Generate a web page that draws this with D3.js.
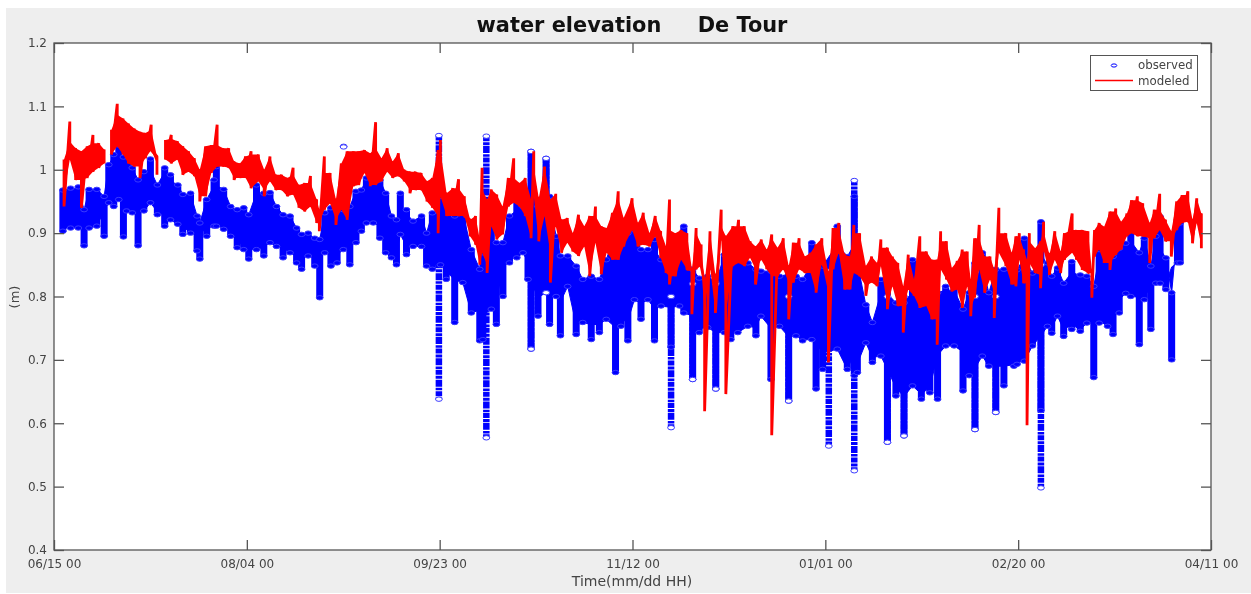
<!DOCTYPE html>
<html><head><meta charset="utf-8">
<script src="https://cdn.jsdelivr.net/npm/d3@7"></script>
<style>html,body{margin:0;padding:0;background:#fff}svg{display:block;filter:blur(0.4px)}</style>
</head><body><svg id="c" width="1251" height="594"></svg>
<script>
const titleText = "water elevation     De Tour";
const xLabelText = "Time(mm/dd HH)";
const yLabelText = "(m)";
const seriesNames = ["observed", "modeled"];
const xTickDays = [0, 50, 100, 150, 200, 250, 300];
const xTickLabels = ["06/15 00", "08/04 00", "09/23 00", "11/12 00", "01/01 00", "02/20 00", "04/11 00"];
const yTickValues = [0.4, 0.5, 0.6, 0.7, 0.8, 0.9, 1, 1.1, 1.2];

// observed: days since 06/15 with the upper and lower reading of each stretch
const observedDays = [2.3,4.3,6.3,7.8,9.1,11.1,13,14.2,15.5,16.8,18,18.8,20.3,21.8,23.3,25,26.8,28.7,30.2,32.1,33.4,35.4,37.1,37.8,39.6,41.5,42.1,44,45.8,47.5,49.2,50.5,
52.5,54.4,56,57.7,59.4,61.2,62.9,64.2,65.9,67.6,68.9,70.2,71.8,73.4,75,76.7,78.3,79.7,81,82.8,84.5,86,87.5,88.8,89.8,91.4,93.1,95.3,96.6,98.1,100.2,101.7,
103.9,106,108.2,110.4,111.2,113.4,114.7,116.4,118.1,120,121.6,122.9,123.7,125.5,127.6,128.5,130.2,131.3,133.2,135.4,137.1,139.3,141.4,143.2,145.6,147,148.8,
150.5,152.2,154,155.7,157.4,160,162.2,163.3,165.6,167.3,169.5,171.6,173.8,175.5,177.3,179.9,182,183.3,185.9,188.1,190.5,192.4,194.1,196.5,197.6,199.3,
203.1,205.7,207.5,208.3,210.5,212.2,214.4,216.1,218.3,220.4,222.6,224.9,227.1,229.1,231.2,233.4,235.7,237.3,238.8,240.7,242.4,244.2,246.3,248.9,
249.7,251.6,253.7,255.9,257.6,258.7,260.2,261.8,263.9,266.1,267.8,269.6,271,273.2,274.6,276.2,277.9,279.2,281.4,282.7,284.4,285.7,286.8,288.3,289.8,291.3,292];
const observedHigh = [.968,.971,.973,.937,.969,.969,.958,1.008,1.024,1.039,1.02,1.031,1.003,.984,.997,1.017,.976,1.003,.992,.976,.961,.963,.927,.916,.953,.984,1.005,.969,.942,.937,.94,.929,
.976,.963,.964,.942,.929,.927,.908,.898,.9,.892,.89,.932,.94,.942,.937,.942,.966,.968,.987,.987,.984,.963,.927,.921,.963,.937,.919,.927,.9,.932,.958,.953,
.927,.942,.874,.843,.869,.921,.885,.885,.927,.953,.942,.932,1.029,.942,1.018,.958,.895,.864,.864,.848,.827,.832,.827,.858,.906,.921,.9,
.905,.874,.874,.89,.858,.869,.863,.911,.843,.829,.832,.822,.866,.866,.863,.853,.843,.84,.84,.832,.843,.832,.827,.885,.858,.848,
.911,.863,.958,.853,.787,.759,.827,.832,.79,.79,.858,.827,.795,.806,.816,.822,.78,.806,.853,.869,.806,.843,.843,.837,
.842,.892,.837,.918,.853,.832,.845,.821,.855,.834,.832,.816,.874,.863,.863,.876,.884,.905,.869,.892,.848,.895,.926,.861,.806,.921,.916];
const observedLow = [.903,.908,.908,.88,.908,.911,.895,.948,.942,.953,.894,.935,.932,.88,.935,.948,.929,.911,.921,.914,.898,.9,.872,.859,.895,.911,.911,.906,.895,.877,.874,.859,
.874,.864,.885,.879,.861,.869,.853,.843,.864,.848,.798,.869,.848,.853,.874,.85,.885,.903,.916,.916,.892,.869,.861,.85,.898,.866,.879,.879,.848,.843,.85,.827,
.759,.822,.774,.73,.732,.78,.756,.8,.853,.861,.869,.827,.717,.769,.806,.756,.8,.738,.816,.74,.759,.732,.743,.764,.68,.753,.73,
.795,.764,.795,.73,.785,.72,.785,.774,.669,.743,.751,.654,.743,.732,.743,.753,.738,.769,.669,.753,.635,.738,.73,.732,.654,.685,
.717,.685,.675,.68,.727,.696,.706,.57,.643,.58,.659,.638,.648,.638,.722,.722,.651,.675,.59,.706,.69,.617,.659,.69,
.693,.698,.722,.62,.753,.742,.769,.737,.748,.745,.758,.672,.758,.753,.74,.774,.805,.8,.724,.795,.748,.821,.821,.811,.7,.853,.853];

// narrow excursions of the observed record
const spikeDays = [75.1,99.8,112.1,123.7,127.6,160,165.6,171.6,190.5,200.9,207.5,216.1,220.4,238.8,244.2,255.9];
const spikeTop = [1.037,1.054,1.053,1.029,1.018,.8,.82,.82,.8,.84,.983,.8,.8,.8,.8,.85];
const spikeBottom = [1.036,.638,.577,.717,.806,.593,.669,.654,.635,.564,.525,.57,.58,.59,.617,.498];

// modeled: days since 06/15 with upper and lower reading; null marks a gap in the line
const modeledDays = [2.6,4.1,5.6,7.1,8.6,10.1,11.6,13,14,14.9,16.4,17.9,19.3,20.8,22.3,23.7,25.2,26.7,27.8,28.9,30.4,32,33.4,34.9,36.4,37.8,39.3,40.8,42.3,43.8,45.3,46.7,48.2,49.7,51.1,
53,54.5,56,57.5,59,60.5,62,63.5,65,66.5,68.1,68.8,70.1,71.6,73.1,74.5,76,77.6,79,80.5,82,83.4,84.9,86.4,87.8,89.3,90.8,92.3,93.7,95.2,96.7,98.1,99.6,100.2,101.8,
103.4,104.9,106.4,107.9,109.3,110.4,111,112.3,113.4,114.8,116.3,117.8,119.2,120.7,122.2,123.7,124.4,125.7,127.2,128.7,130.1,131.6,133.1,134.5,136,137.5,138.9,140.4,141.9,143.3,144.8,146.3,147.7,
149.9,151.4,152.8,154.4,155.9,157.3,158.7,159.6,161.1,162.6,164.1,165.4,166.5,167.8,168.7,170.1,171.5,173,174.2,176,177.5,179,180.5,181.9,183.4,184.8,186.1,187.6,189.1,190.5,191.7,193.2,194.7,196.2,197.6,199.1,
200.8,202,203.5,205,206.4,207.4,208.9,210.5,212,213.4,214.4,216.1,217.4,218.8,220.2,221.5,223,224.5,226.2,227.6,229,229.9,231.4,232.8,234.2,235.5,236.8,237.7,238.7,239.9,241.3,242.7,243.8,245,246.8,248.3,
249.4,250.3,251.4,252.3,252.9,254.4,255.8,256.6,258.1,259.5,261,262,264,265.1,266.6,268.1,269.1,269.8,271,272.3,273.8,275.3,276.7,278.2,279.4,280.9,282.3,284.1,285.3,286.7,288.2,289.7,291.1,292.5,294,295.2,296.3,297.5];
const modeledHigh = [1.016,1.076,1.034,1.029,1.037,1.055,1.042,1.032,null,1.063,1.104,1.081,1.073,1.065,1.06,1.058,1.071,1.021,null,1.047,1.055,1.045,1.037,1.029,1.018,1.0,1.037,1.039,1.071,1.034,1.034,1.013,1.01,1.021,1.029,
1.024,1.0,1.021,.992,.992,.987,1.003,.976,.979,.99,.953,.937,1.021,.995,.953,1.01,1.029,1.029,1.029,1.031,1.026,1.075,1.018,1.034,1.013,1.026,1.0,.997,.997,.995,.982,.987,1.031,1.047,.963,
.971,.985,.958,.921,.927,.89,1.003,.953,.969,.961,.942,.987,1.018,.979,.987,.953,1.029,.955,1.005,.953,.962,.921,.924,.9,.929,.911,.927,.942,.911,.908,.932,.966,.924,
.955,.916,.932,.9,.927,.903,.879,.953,.9,.905,.9,.843,.908,.882,.822,.903,.832,.937,.895,.911,.921,.911,.887,.879,.89,.874,.898,.877,.892,.848,.885,.892,.863,.869,.882,.892,
.837,.908,.916,.866,.863,.913,.9,.848,.863,.853,.89,.877,.863,.853,.816,.866,.827,.895,.871,.858,.858,.903,.887,.845,.856,.874,.871,.827,.892,.913,.863,.863,.843,.94,.9,.869,
.895,.9,.874,.858,.9,.876,.887,.918,.866,.903,.871,.9,.931,.905,.905,.903,.842,.905,.916,.91,.934,.939,.918,.931,.952,.958,.947,.916,.937,.962,.921,.903,.95,.96,.966,.921,.955,.931];
const modeledLow = [.942,1.016,.984,.94,.987,.997,1.003,1.01,null,1.024,1.037,1.024,1.01,1.005,.987,1.018,1.031,.992,null,1.016,1.01,1.016,.992,.997,.99,.95,.958,.995,1.005,1.005,1.003,.984,.987,.987,.971,
.982,.958,.982,.968,.968,.958,.961,.94,.934,.942,.916,.903,.937,.947,.913,.937,.921,.974,.976,.995,.974,.976,.982,.997,.987,.99,.982,.963,.968,.968,.95,.94,.9,.958,.927,
.927,.927,.927,.895,.882,.85,.869,.837,.911,.89,.898,.942,.948,.942,.927,.892,.958,.887,.927,.822,.911,.869,.885,.871,.864,.879,.832,.885,.835,.869,.858,.858,.879,
.905,.879,.882,.879,.895,.861,.837,.819,.832,.858,.843,.772,.843,.848,.619,.848,.774,.89,.646,.848,.853,.848,.861,.819,.858,.843,.581,.832,.843,.764,.822,.843,.837,.837,.806,.853,
.696,.843,.869,.811,.811,.837,.832,.801,.822,.816,.848,.78,.816,.785,.743,.811,.801,.782,.785,.764,.724,.843,.827,.808,.811,.782,.816,.769,.798,.843,.806,.827,.766,.869,.848,.819,
.816,.858,.821,.597,.853,.837,.813,.874,.834,.858,.837,.858,.869,.858,.842,.837,.798,.863,.874,.853,.842,.866,.874,.895,.9,.895,.895,.853,.892,.905,.887,.863,.905,.916,.918,.884,.916,.876];

const W = 1251, H = 594, m = {l:54, t:43, r:1211, b:550};
const svg = d3.select("#c");
const fontFam = "'DejaVu Sans', sans-serif";
const inkGrey = "#444";

svg.append("rect").attr("x",6).attr("y",8).attr("width",W-6).attr("height",H-9).attr("fill","#eeeeee");
svg.append("rect").attr("x",m.l).attr("y",m.t).attr("width",m.r-m.l).attr("height",m.b-m.t).attr("fill","#fff");

const x = d3.scaleLinear().domain([0,300]).range([m.l,m.r]);
const y = d3.scaleLinear().domain([0.4,1.2]).range([m.b,m.t]);
svg.append("clipPath").attr("id","plot").append("rect").attr("x",m.l).attr("y",m.t).attr("width",m.r-m.l).attr("height",m.b-m.t);
const plot = svg.append("g").attr("clip-path","url(#plot)");

// solid core of a band: narrow excursions are left to the individual marks
function neighbours(arr,i,r){ const out=[]; for(let k=Math.max(0,i-r);k<=Math.min(arr.length-1,i+r);k++){ if(arr[k]!==null) out.push(arr[k]); } return out.sort(d3.ascending); }
function coreRows(days,hi,lo,r,qLo,qHi){
  return days.map((d,i)=> hi[i]===null ? {d,hi:null,lo:null} :
    {d, hi:Math.min(hi[i], d3.quantile(neighbours(hi,i,r),qHi)), lo:Math.max(lo[i], d3.quantile(neighbours(lo,i,r),qLo))});
}
const bandArea = d3.area().defined(p=>p.hi!==null).x(p=>x(p.d)).y0(p=>y(p.lo)).y1(p=>y(p.hi));

// observed marks
const blue = "#0000ff";
plot.append("path").attr("d",bandArea(coreRows(observedDays,observedHigh,observedLow,2,0.7,0.6)))
  .attr("fill",blue).attr("stroke",blue).attr("stroke-width",1);
plot.append("g").selectAll("line").data(observedDays).join("line")
  .attr("x1",d=>x(d)).attr("x2",d=>x(d))
  .attr("y1",(d,i)=>y(observedHigh[i])).attr("y2",(d,i)=>y(observedLow[i]))
  .attr("stroke",blue).attr("stroke-width",7);
plot.append("g").selectAll("line").data(spikeDays).join("line")
  .attr("x1",d=>x(d)).attr("x2",d=>x(d))
  .attr("y1",(d,i)=>y(spikeTop[i])).attr("y2",(d,i)=>y(spikeBottom[i]))
  .attr("stroke",blue).attr("stroke-width",6.5).attr("stroke-dasharray","5 1 3 0.8 7 1.2 2.5 0.8");
const obsPts = observedDays.flatMap((d,i)=>[[d,observedHigh[i]],[d,observedLow[i]]]);
plot.append("g").selectAll("ellipse").data(obsPts).join("ellipse")
  .attr("cx",p=>x(p[0])).attr("cy",p=>y(p[1])).attr("rx",3.4).attr("ry",2.2)
  .attr("fill",blue).attr("stroke","#3a3aff").attr("stroke-width",1);
plot.append("g").selectAll("ellipse").data(spikeDays.flatMap((d,i)=>[[d,spikeTop[i]],[d,spikeBottom[i]]])).join("ellipse")
  .attr("cx",p=>x(p[0])).attr("cy",p=>y(p[1])).attr("rx",3.4).attr("ry",2.2)
  .attr("fill","#fff").attr("stroke","#3a3aff").attr("stroke-width",1);

// modeled line
const red = "#ff0000";
plot.append("path").attr("d",bandArea(coreRows(modeledDays,modeledHigh,modeledLow,2,0.25,0.75)))
  .attr("fill",red).attr("stroke","none");
const modPts = modeledDays.flatMap((d,i)=>[[d,modeledHigh[i]],[d,modeledLow[i]]]);
plot.append("path").attr("d",d3.line().defined(p=>p[1]!==null).x(p=>x(p[0])).y(p=>y(p[1]))(modPts))
  .attr("fill","none").attr("stroke",red).attr("stroke-width",2.8).attr("stroke-linejoin","bevel");

// axes
function styleAxis(g){
  g.select(".domain").remove();
  g.selectAll("line").attr("stroke","#555").attr("stroke-width",1.3);
  g.selectAll("text").attr("fill",inkGrey).attr("font-family",fontFam).attr("font-size",12);
}
const yfmt = v => String(+v.toFixed(1));
svg.append("g").attr("transform",`translate(${m.l},0)`).call(d3.axisLeft(y).tickValues(yTickValues).tickFormat(yfmt).tickSize(-10).tickPadding(7)).call(styleAxis)
  .selectAll("text").attr("dy","0.32em");
svg.append("g").attr("transform",`translate(${m.r},0)`).call(d3.axisRight(y).tickValues(yTickValues).tickFormat("").tickSize(-10)).call(styleAxis);
svg.append("g").attr("transform",`translate(0,${m.b})`).call(d3.axisBottom(x).tickValues(xTickDays).tickFormat((d,i)=>xTickLabels[i]).tickSize(-10).tickPadding(6)).call(styleAxis)
  .selectAll("text").attr("y",9.5).attr("dy","0.71em");
svg.append("g").attr("transform",`translate(0,${m.t})`).call(d3.axisTop(x).tickValues(xTickDays).tickFormat("").tickSize(-10)).call(styleAxis);
svg.append("rect").attr("x",m.l).attr("y",m.t).attr("width",m.r-m.l).attr("height",m.b-m.t).attr("fill","none").attr("stroke","#555").attr("stroke-width",1.3);

// titles
svg.append("text").attr("x",632).attr("y",32).attr("text-anchor","middle").attr("xml:space","preserve").style("white-space","pre")
  .attr("font-family",fontFam).attr("font-weight","bold").attr("font-size",20.9).attr("fill","#111").text(titleText);
svg.append("text").attr("x",632).attr("y",586).attr("text-anchor","middle")
  .attr("font-family",fontFam).attr("font-size",14).attr("fill",inkGrey).text(xLabelText);
svg.append("text").attr("transform","translate(19,297) rotate(-90)").attr("text-anchor","middle")
  .attr("font-family",fontFam).attr("font-size",13).attr("fill",inkGrey).text(yLabelText);

// legend
const lg = svg.append("g");
lg.append("rect").attr("x",1090.5).attr("y",55.5).attr("width",107).attr("height",35).attr("fill","#fff").attr("stroke","#555").attr("stroke-width",1);
lg.append("ellipse").attr("cx",1114).attr("cy",65.5).attr("rx",2.8).attr("ry",1.6).attr("fill","none").attr("stroke",blue).attr("stroke-width",1);
lg.append("line").attr("x1",1095).attr("x2",1133).attr("y1",80.5).attr("y2",80.5).attr("stroke",red).attr("stroke-width",1.5);
lg.selectAll("text").data(seriesNames).join("text").attr("x",1138).attr("y",(d,i)=>69+i*16)
  .attr("font-family",fontFam).attr("font-size",11.8).attr("fill",inkGrey).text(d=>d);
</script></body></html>
